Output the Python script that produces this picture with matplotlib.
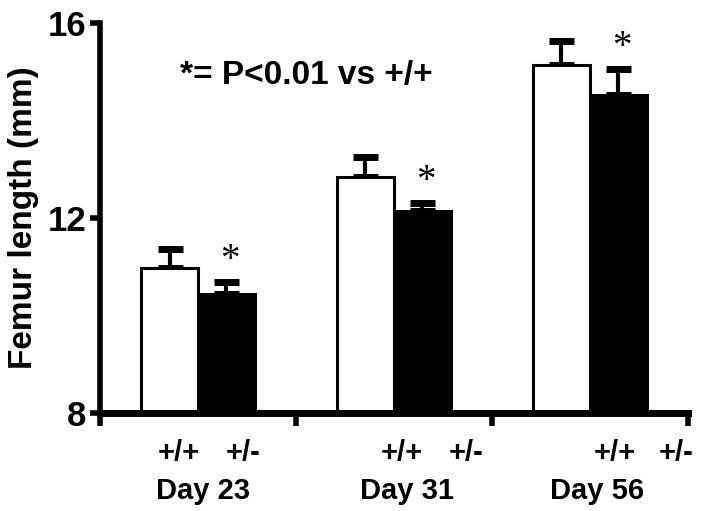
import numpy as np
import matplotlib.pyplot as plt
from matplotlib import transforms

# datos
days = ['Day 23', 'Day 31', 'Day 56']
wt_mean = [10.97, 12.84, 15.14]
wt_err = [0.39, 0.41, 0.49]
het_mean = [10.44, 12.14, 14.52]
het_err = [0.25, 0.17, 0.54]
geno_labels = ['+/+', '+/-']

plt.rcParams['font.family'] = ['Liberation Sans', 'DejaVu Sans']
plt.rcParams['font.weight'] = 'bold'

fig = plt.figure(figsize=(7.04, 5.11), dpi=100)
ax = fig.add_axes([0.142, 0.192, 0.835, 0.763])

x = np.arange(len(days))
w = 0.29
xw = x + 0.355
xh = x + 0.645

ax.bar(xw, np.array(wt_mean) - 8, width=w, bottom=8, color='white',
       edgecolor='black', linewidth=2.2, zorder=2)
ax.bar(xh, np.array(het_mean) - 8, width=w, bottom=8, color='black',
       edgecolor='black', linewidth=2.2, zorder=2)

for xs, m, e in [(xw, wt_mean, wt_err), (xh, het_mean, het_err)]:
    ax.errorbar(xs, m, yerr=[np.zeros(len(e)), e], fmt='none', ecolor='black',
                elinewidth=3, capsize=9, capthick=5, zorder=1)

# asteriscos sobre +/-
for xs, m, e in zip(xh, het_mean, het_err):
    ax.text(xs + 0.02, m + e + 0.05, '*', ha='center', va='bottom',
            fontsize=28, fontweight='normal', family='Liberation Serif')

ax.set_xlim(0, 3)
ax.set_ylim(8, 16)
ax.set_yticks([8, 12, 16])
ax.set_xticks([0, 1, 2, 3])
ax.set_xticklabels([])
ax.tick_params(axis='y', labelsize=25, width=4, length=7, pad=3)
ax.tick_params(axis='x', width=4, length=9)
for s in ['top', 'right']:
    ax.spines[s].set_visible(False)
ax.spines['left'].set_linewidth(4)
ax.spines['bottom'].set_linewidth(5)
for lab in ax.get_yticklabels():
    lab.set_fontweight('bold')

ax.set_ylabel('Femur length (mm)', fontsize=24, fontweight='bold', labelpad=6)

trans = transforms.blended_transform_factory(ax.transData, ax.transAxes)
geno_x = [[0.40, 0.73], [1.54, 1.87], [2.63, 2.94]]
day_x = [0.526, 1.566, 2.536]
for i, d in enumerate(days):
    for gx, g in zip(geno_x[i], geno_labels):
        ax.text(gx, -0.102, g, transform=trans, ha='center', va='center',
                fontsize=21, fontweight='bold')
    ax.text(day_x[i], -0.2, d, transform=trans, ha='center', va='center',
            fontsize=21, fontweight='bold')

ax.text(0.136, 0.865, '*= P<0.01 vs +/+', transform=ax.transAxes, ha='left',
        va='center', fontsize=24, fontweight='bold')

fig.savefig('out.png', dpi=100)
